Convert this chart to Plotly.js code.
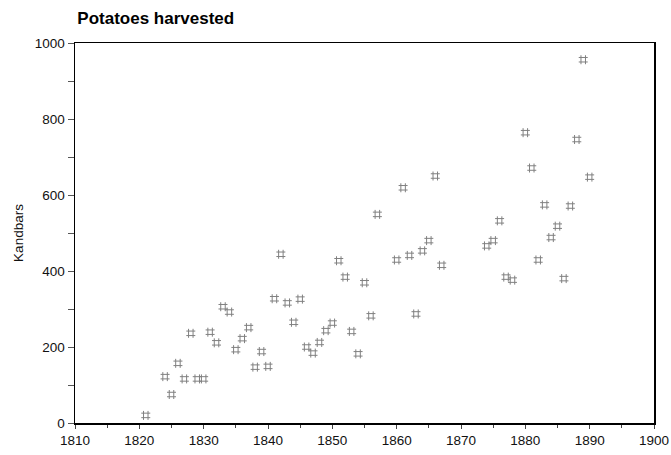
<!DOCTYPE html>
<html>
<head>
<meta charset="utf-8">
<script src="https://cdn.plot.ly/plotly-3.0.1.min.js"></script>
<style>html,body{margin:0;padding:0;background:#fff;}#chart{width:671px;height:455px;}</style>
</head>
<body>
<div id="chart"></div>
<script>
const years = [1821,1824,1825,1826,1827,1828,1829,1830,1831,1832,1833,1834,1835,1836,1837,1838,1839,1840,
  1841,1842,1843,1844,1845,1846,1847,1848,1849,1850,1851,1852,1853,1854,1855,1856,1857,
  1860,1861,1862,1863,1864,1865,1866,1867,1874,1875,1876,1877,1878,
  1880,1881,1882,1883,1884,1885,1886,1887,1888,1889,1890];
const kandbars = [20,122,75,157,116,236,116,116,239,211,306,292,193,222,251,147,188,149,
  327,444,316,265,326,200,184,212,243,263,427,384,241,182,369,282,549,
  429,619,441,287,453,480,650,415,466,480,532,384,376,
  764,671,429,574,488,518,380,571,746,956,647];
const xTicks = [1810,1820,1830,1840,1850,1860,1870,1880,1890,1900];
const yTicks = [0,200,400,600,800,1000];

const trace = {
  x: years, y: kandbars, type: 'scatter', mode: 'markers',
  marker: {symbol: 'hash-open', size: 9, color: '#808080', line: {width: 1, color: '#808080'}},
  hoverinfo: 'x+y'
};
const fam = 'Liberation Sans, Arial, sans-serif';
const layout = {
  width: 671, height: 455,
  margin: {l: 75, r: 17, t: 42.5, b: 31.5},
  paper_bgcolor: '#fff', plot_bgcolor: '#fff',
  font: {family: fam, color: '#111', size: 13},
  showlegend: false,
  title: {text: '<b>Potatoes harvested</b>', font: {family: fam, size: 17, color: '#000'},
    x: 0.004, xref: 'paper', xanchor: 'left', y: 0.96, yref: 'container', yanchor: 'middle'},
  xaxis: {
    range: [1810, 1900], tickvals: xTicks, ticktext: xTicks.map(String),
    showgrid: false, zeroline: false, showline: true, linecolor: '#000', linewidth: 1.5, mirror: true,
    ticks: 'outside', ticklen: 4, tickcolor: '#444', tickwidth: 1,
    minor: {dtick: 5, tick0: 1810, ticks: 'outside', ticklen: 3, tickcolor: '#444', showgrid: false},
    tickfont: {family: fam, size: 13.5, color: '#111'}
  },
  yaxis: {
    range: [0, 1000], tickvals: yTicks, ticktext: yTicks.map(String),
    showgrid: false, zeroline: false, showline: true, linecolor: '#000', linewidth: 1.5, mirror: true,
    ticks: 'outside', ticklen: 6, tickcolor: '#555', tickwidth: 1,
    minor: {dtick: 100, tick0: 0, ticks: 'outside', ticklen: 6, tickcolor: '#555', showgrid: false},
    tickfont: {family: fam, size: 13.5, color: '#111'},
    title: {text: 'Kandbars', standoff: 8, font: {family: fam, size: 13.5, color: '#111'}}
  }
};
Plotly.newPlot('chart', [trace], layout, {displayModeBar: false, staticPlot: true});
</script>
</body>
</html>
